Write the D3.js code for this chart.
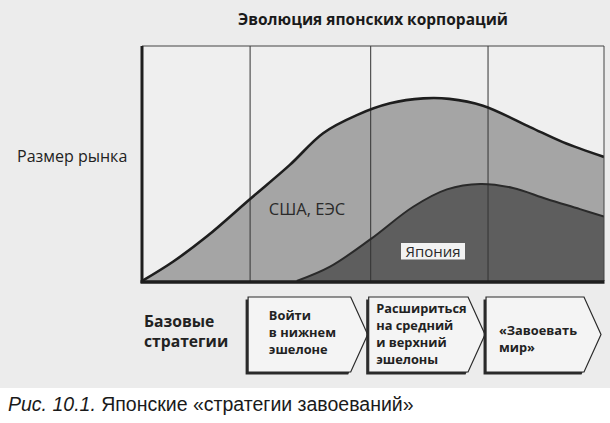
<!DOCTYPE html>
<html lang="ru">
	<head>
		<meta charset="utf-8">
		<title>Эволюция японских корпораций</title>
		<script type="text/javascript" src="https://d3js.org/d3.v7.min.js"></script>
		<style type="text/css">
			body { margin: 0; background: #ffffff; }
		</style>
	</head>
	<body>
		<script type="text/javascript">

// DATA (time 0..100, market size 0..100)
var usX = [0, 6.7, 14.0, 23.4, 32.0, 39.2, 46.5, 53.7, 60.9, 66.5, 73.8, 84.0, 91.1, 100];
var usY = [0, 8.2, 18.9, 34.9, 49.4, 62.9, 70.6, 75.6, 77.7, 77.5, 74.6, 65.5, 59.1, 52.8];

var jpX = [33.5, 40.7, 49.4, 58.7, 66.0, 73.2, 80.3, 87.6, 94.8, 100];
var jpY = [0, 6.1, 17.7, 31.6, 39.0, 41.3, 39.6, 34.9, 30.6, 27.4];

// phase boundaries (vertical lines) and the strategy for each phase
var phases = [23.4, 49.5, 74.9, 100];
var strategies = [
	["Войти", "в нижнем", "эшелоне"],
	["Расшириться", "на средний", "и верхний", "эшелоны"],
	["«Завоевать", "мир»"]
];

var title = "Эволюция японских корпораций";
var yLabel = "Размер рынка";
var usLabel = "США, ЕЭС";
var jpLabel = "Япония";
var rowLabel = ["Базовые", "стратегии"];
var captionA = "Рис. 10.1.";
var captionB = " Японские «стратегии завоеваний»";

// SIZES
var w = 610;
var h = 423;
var plotL = 142, plotR = 604, plotT = 46, plotB = 281;

var svg = d3.select("body")
			.append("svg")
			.attr("width", w)
			.attr("height", h);

svg.append("clipPath")
	.attr("id", "plotclip")
	.append("rect")
	.attr("x", plotL).attr("y", plotT)
	.attr("width", plotR - plotL).attr("height", plotB - plotT);

// gray page area of the figure
svg.append("rect")
	.attr("x", 0).attr("y", 0)
	.attr("width", w).attr("height", 388)
	.attr("fill", "#ececec");

// SCALES
var x = d3.scaleLinear().domain([0, 100]).range([plotL, plotR]);
var y = d3.scaleLinear().domain([0, 100]).range([plotB, plotT]);

var usData = usX.map(function(d, i) { return [d, usY[i]]; });
var jpData = jpX.map(function(d, i) { return [d, jpY[i]]; });

var area = d3.area()
	.x(function(d) { return x(d[0]); })
	.y0(y(0))
	.y1(function(d) { return y(d[1]); })
	.curve(d3.curveCatmullRom.alpha(0.5));

var line = d3.line()
	.x(function(d) { return x(d[0]); })
	.y(function(d) { return y(d[1]); })
	.curve(d3.curveCatmullRom.alpha(0.5));

// plot background
svg.append("rect")
	.attr("x", plotL).attr("y", plotT)
	.attr("width", plotR - plotL).attr("height", plotB - plotT)
	.attr("fill", "#efefef");

var plot = svg.append("g").attr("clip-path", "url(#plotclip)");

// AREAS
plot.append("path")
	.datum(usData)
	.attr("d", area)
	.attr("fill", "#a5a5a5");

plot.append("path")
	.datum(jpData)
	.attr("d", area)
	.attr("fill", "#5e5e5e");

// phase lines
plot.selectAll(".vline")
	.data(phases.slice(0, 3))
	.enter()
	.append("line")
	.attr("class", "vline")
	.attr("x1", function(d) { return x(d); })
	.attr("x2", function(d) { return x(d); })
	.attr("y1", plotT)
	.attr("y2", plotB)
	.attr("stroke", "#333")
	.attr("stroke-width", 1);

// CURVES
plot.append("path")
	.datum(usData)
	.attr("d", line)
	.attr("fill", "none")
	.attr("stroke", "#1e1e1e")
	.attr("stroke-width", 2.6);

plot.append("path")
	.datum(jpData)
	.attr("d", line)
	.attr("fill", "none")
	.attr("stroke", "#2a2a2a")
	.attr("stroke-width", 2);

// FRAME
svg.append("line")
	.attr("x1", plotL).attr("x2", plotR)
	.attr("y1", plotT).attr("y2", plotT)
	.attr("stroke", "#444").attr("stroke-width", 1);
svg.append("line")
	.attr("x1", plotR).attr("x2", plotR)
	.attr("y1", plotT).attr("y2", plotB)
	.attr("stroke", "#444").attr("stroke-width", 1);
svg.append("line")
	.attr("x1", plotL).attr("x2", plotL)
	.attr("y1", plotT).attr("y2", plotB + 2)
	.attr("stroke", "#1e1e1e").attr("stroke-width", 3);
svg.append("line")
	.attr("x1", plotL - 1.5).attr("x2", plotR + 0.5)
	.attr("y1", plotB + 1).attr("y2", plotB + 1)
	.attr("stroke", "#1e1e1e").attr("stroke-width", 3.5);

// TEXTS
svg.append("text")
	.text(title)
	.attr("x", 373)
	.attr("y", 25)
	.attr("text-anchor", "middle")
	.attr("font-family", "Open Sans")
	.attr("font-weight", "bold")
	.attr("font-size", "15.5px")
	.attr("fill", "#1a1a1a");

svg.append("text")
	.text(yLabel)
	.attr("x", 17)
	.attr("y", 162)
	.attr("font-family", "Open Sans")
	.attr("font-size", "16px")
	.attr("fill", "#222");

svg.append("text")
	.text(usLabel)
	.attr("x", 307)
	.attr("y", 215)
	.attr("text-anchor", "middle")
	.attr("font-family", "Open Sans")
	.attr("font-size", "16.5px")
	.attr("fill", "#2a2a2a");

svg.append("rect")
	.attr("x", 401).attr("y", 243)
	.attr("width", 64).attr("height", 16.5)
	.attr("fill", "#f2f2f2");

svg.append("text")
	.text(jpLabel)
	.attr("x", 433)
	.attr("y", 256.5)
	.attr("text-anchor", "middle")
	.attr("font-family", "Open Sans")
	.attr("font-size", "15px")
	.attr("fill", "#2a2a2a");

// row label
svg.append("text")
	.selectAll("tspan")
	.data(rowLabel)
	.enter()
	.append("tspan")
	.attr("x", 144)
	.attr("y", function(d, i) { return 327 + i * 20; })
	.text(function(d) { return d; })
	.attr("font-family", "Open Sans")
	.attr("font-weight", "bold")
	.attr("font-size", "15.7px")
	.attr("fill", "#222");

// STRATEGY ARROWS
var boxTop = 297, boxBottom = 372, notch = 17;
var textMid = [337, 338.5, 343.5];
function arrowPath(x0, x1) {
	var mid = (boxTop + boxBottom) / 2;
	return "M" + x0 + "," + boxTop +
		"L" + (x1 - notch) + "," + boxTop +
		"L" + x1 + "," + mid +
		"L" + (x1 - notch) + "," + boxBottom +
		"L" + x0 + "," + boxBottom + "Z";
}

var boxes = svg.selectAll(".box")
	.data(strategies)
	.enter()
	.append("g")
	.attr("class", "box");

boxes.append("path")
	.attr("d", function(d, i) { return arrowPath(x(phases[i]) - 2, x(phases[i + 1]) - 3); })
	.attr("transform", "translate(-2.5,2.5)")
	.attr("fill", "#2a2a2a");

boxes.append("path")
	.attr("d", function(d, i) { return arrowPath(x(phases[i]) - 2, x(phases[i + 1]) - 3); })
	.attr("fill", "#f4f4f4")
	.attr("stroke", "#2a2a2a")
	.attr("stroke-width", 1.2);

var boxText = boxes.append("text")
	.attr("font-family", "Open Sans")
	.attr("font-weight", "bold")
	.attr("font-size", "12.8px")
	.attr("fill", "#222");

boxText.selectAll("tspan")
	.data(function(d, i) {
		return d.map(function(t) { return { t: t, n: d.length, i: i }; });
	})
	.enter()
	.append("tspan")
	.attr("x", 0)
	.attr("y", function(d, j) {
		var lh = 16.7;
		return textMid[d.i] - (d.n - 1) * lh / 2 + j * lh;
	})
	.text(function(d) { return d.t; });

// centre each left-aligned text block inside the straight part of its arrow
boxText.attr("transform", function(d, i) {
	var bw = this.getBBox().width;
	var cx = (x(phases[i]) - 2 + x(phases[i + 1]) - 3 - notch) / 2 + 3;
	return "translate(" + (cx - bw / 2) + ",0)";
});

// CAPTION
var cap = svg.append("text")
	.attr("x", 8)
	.attr("y", 411)
	.attr("font-family", "Liberation Sans")
	.attr("font-size", "19.5px")
	.attr("fill", "#1a1a1a");
cap.append("tspan").attr("font-style", "italic").text(captionA);
cap.append("tspan").text(captionB);

		</script>
	</body>
</html>
